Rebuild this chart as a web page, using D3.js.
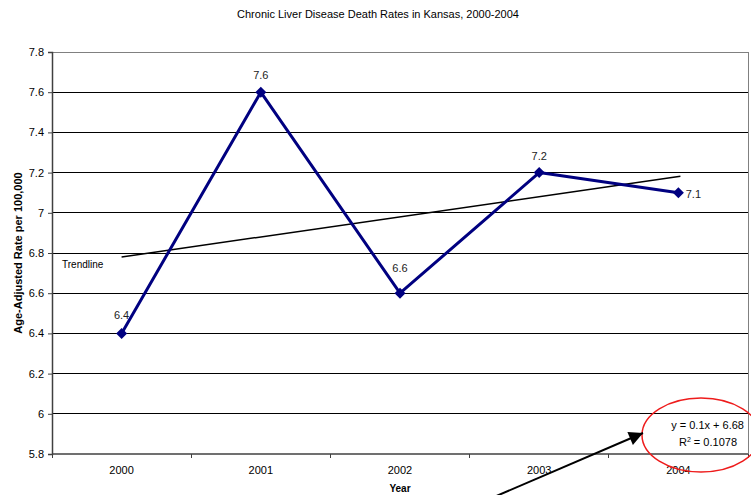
<!DOCTYPE html>
<html>
<head>
<meta charset="utf-8">
<script src="https://cdn.jsdelivr.net/npm/d3@7"></script>
<style>
  html, body { margin: 0; padding: 0; background: #fff; }
  svg { display: block; font-family: "Liberation Sans", Arial, sans-serif; }
</style>
</head>
<body>
<svg id="chart" width="751" height="495"></svg>
<script>
// Chronic liver disease age-adjusted death rates, Kansas
const years = ["2000", "2001", "2002", "2003", "2004"];
const rates = [6.4, 7.6, 6.6, 7.2, 7.1];
const yTicks = [5.8, 6, 6.2, 6.4, 6.6, 6.8, 7, 7.2, 7.4, 7.6, 7.8];
// Linear trend y = slope * x + intercept, x = 1..5
const trendSlope = 0.1;
const trendIntercept = 6.68;
const trendR2 = 0.1078;

const svg = d3.select("#chart");
const plot = { left: 52, right: 748, top: 52, bottom: 454 };

const x = d3.scaleBand().domain(years).range([plot.left, plot.right]);
const y = d3.scaleLinear().domain([5.8, 7.8]).range([plot.bottom, plot.top]);
const cx = d => x(d) + x.bandwidth() / 2;

// Title
svg.append("text")
  .attr("x", 378).attr("y", 18)
  .attr("text-anchor", "middle")
  .attr("font-size", 11)
  .text("Chronic Liver Disease Death Rates in Kansas, 2000-2004");

// Horizontal gridlines
svg.append("g").selectAll("line")
  .data(yTicks.filter(t => t > 5.8))
  .join("line")
  .attr("x1", plot.left).attr("x2", plot.right)
  .attr("y1", d => y(d)).attr("y2", d => y(d))
  .attr("stroke", d => d === 7.8 ? "#808080" : "#000")
  .attr("stroke-width", 1)
  .attr("shape-rendering", "crispEdges");

// Right border of the plot area
svg.append("line")
  .attr("x1", plot.right).attr("x2", plot.right)
  .attr("y1", plot.top).attr("y2", plot.bottom)
  .attr("stroke", "#808080")
  .attr("shape-rendering", "crispEdges");

// Y axis
const yAxis = d3.axisLeft(y).tickValues(yTicks).tickSize(4).tickPadding(4)
  .tickFormat(d => d3.format("")(+d.toFixed(1)));
const gy = svg.append("g")
  .attr("transform", `translate(${plot.left},0)`)
  .call(yAxis);
gy.select(".domain").attr("stroke", "#404040").attr("stroke-width", 1.5);
gy.selectAll(".tick line").attr("stroke", "#404040");
gy.selectAll(".tick text").attr("font-size", 11).attr("fill", "#000")
  .attr("font-family", "Liberation Sans, Arial, sans-serif");

// X axis with ticks between categories
const gx = svg.append("g")
  .attr("transform", `translate(0,${plot.bottom})`);
gx.append("line")
  .attr("x1", plot.left).attr("x2", plot.right)
  .attr("stroke", "#404040").attr("stroke-width", 1.5);
const boundaries = years.map(d => x(d)).concat([plot.right]);
gx.selectAll(".sep").data(boundaries).join("line")
  .attr("class", "sep")
  .attr("x1", d => d).attr("x2", d => d)
  .attr("y1", 0).attr("y2", 4)
  .attr("stroke", "#404040")
  .attr("shape-rendering", "crispEdges");
gx.selectAll(".lbl").data(years).join("text")
  .attr("class", "lbl")
  .attr("x", d => cx(d)).attr("y", 20)
  .attr("text-anchor", "middle")
  .attr("font-size", 11)
  .text(d => d);

// Axis titles
svg.append("text")
  .attr("x", 400).attr("y", 492)
  .attr("text-anchor", "middle")
  .attr("font-size", 10).attr("font-weight", "bold")
  .text("Year");
svg.append("text")
  .attr("transform", `translate(22,${(plot.top + plot.bottom) / 2}) rotate(-90)`)
  .attr("text-anchor", "middle")
  .attr("font-size", 11).attr("font-weight", "bold")
  .text("Age-Adjusted Rate per 100,000");

// Trendline, extended slightly past the last category
const xi = d3.scaleLinear().domain([1, 5]).range([cx(years[0]), cx(years[4])]);
svg.append("line")
  .attr("x1", xi(1)).attr("y1", y(trendSlope * 1 + trendIntercept))
  .attr("x2", xi(5) + 2).attr("y2", y(trendSlope * (5 + 2 / (xi(2) - xi(1))) + trendIntercept))
  .attr("stroke", "#000").attr("stroke-width", 1.5);
svg.append("text")
  .attr("x", 62).attr("y", 268)
  .attr("font-size", 10)
  .text("Trendline");

// Data line
const line = d3.line().x((d, i) => cx(years[i])).y(d => y(d));
svg.append("path")
  .datum(rates)
  .attr("d", line)
  .attr("fill", "none")
  .attr("stroke", "#000080")
  .attr("stroke-width", 3)
  .attr("stroke-linejoin", "round");

// Diamond markers
svg.append("g").selectAll("path")
  .data(rates)
  .join("path")
  .attr("transform", (d, i) => `translate(${cx(years[i])},${y(d)})`)
  .attr("d", "M0,-5.5L5.5,0L0,5.5L-5.5,0Z")
  .attr("fill", "#000080");

// Value labels
const labelOffsets = [[0, -14], [0, -13], [0, -21], [0, -13], [15, 5]];
svg.append("g").selectAll("text")
  .data(rates)
  .join("text")
  .attr("x", (d, i) => cx(years[i]) + labelOffsets[i][0])
  .attr("y", (d, i) => y(d) + labelOffsets[i][1])
  .attr("text-anchor", "middle")
  .attr("font-size", 11)
  .attr("fill", "#222")
  .text(d => d3.format("")(d));

// Trend equation with highlight ellipse
svg.append("text")
  .attr("x", 744).attr("y", 429)
  .attr("text-anchor", "end")
  .attr("font-size", 11)
  .text(`y = ${trendSlope}x + ${trendIntercept}`);
const r2 = svg.append("text")
  .attr("x", 737).attr("y", 446)
  .attr("text-anchor", "end")
  .attr("font-size", 11);
r2.append("tspan").text("R");
r2.append("tspan").attr("dy", -4).attr("font-size", 7).text("2");
r2.append("tspan").attr("dy", 4).text(` = ${trendR2}`);

svg.append("ellipse")
  .attr("cx", 701).attr("cy", 435)
  .attr("rx", 59).attr("ry", 37)
  .attr("fill", "none")
  .attr("stroke", "#ee1c1c")
  .attr("stroke-width", 1.5);

// Pointer arrow
svg.append("defs").append("marker")
  .attr("id", "arrowhead")
  .attr("viewBox", "0 0 10 10")
  .attr("refX", 10).attr("refY", 5)
  .attr("markerUnits", "userSpaceOnUse")
  .attr("markerWidth", 17).attr("markerHeight", 14)
  .attr("orient", "auto")
  .append("path")
  .attr("d", "M0,0L10,5L0,10Z")
  .attr("fill", "#000");
svg.append("line")
  .attr("x1", 494).attr("y1", 497)
  .attr("x2", 643).attr("y2", 433)
  .attr("stroke", "#000").attr("stroke-width", 2)
  .attr("marker-end", "url(#arrowhead)");
</script>
</body>
</html>
